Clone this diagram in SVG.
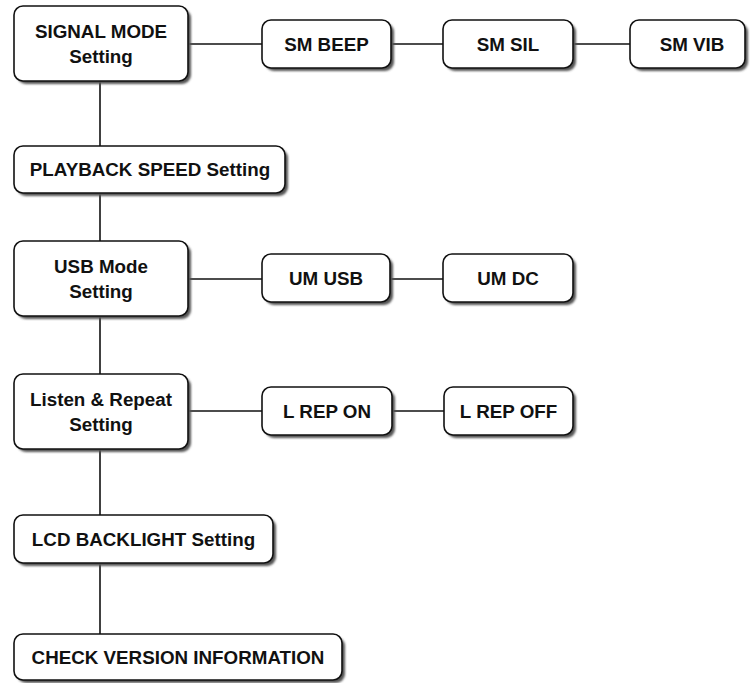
<svg xmlns="http://www.w3.org/2000/svg" width="754" height="683" viewBox="0 0 754 683">
<defs>
<filter id="sh" x="-10%" y="-10%" width="130%" height="140%"><feGaussianBlur stdDeviation="0.8"/></filter>
</defs>
<style>
.box{fill:#fff;stroke:#111;stroke-width:1.6}
.shadow{fill:#555;filter:url(#sh)}
.t{font-family:"Liberation Sans",Arial,sans-serif;font-weight:bold;font-size:18.8px;fill:#111;text-anchor:middle}
.c{stroke:#111;stroke-width:1.6;fill:none}
</style>
<rect width="754" height="683" fill="#fff"/>
<g id="connectors">
<line class="c" x1="100" y1="81" x2="100" y2="634"/>
<line class="c" x1="188" y1="44" x2="262" y2="44"/>
<line class="c" x1="391" y1="44" x2="443" y2="44"/>
<line class="c" x1="573" y1="44" x2="630" y2="44"/>
<line class="c" x1="188" y1="279" x2="262" y2="279"/>
<line class="c" x1="390" y1="279" x2="443" y2="279"/>
<line class="c" x1="188" y1="411" x2="262" y2="411"/>
<line class="c" x1="392" y1="411" x2="444" y2="411"/>
</g>
<g id="signal-mode">
<rect class="shadow" x="17" y="9" width="174" height="75" rx="9"/>
<rect class="box" x="14" y="6" width="174" height="75" rx="9"/>
<text class="t" x="101" y="37.5">SIGNAL MODE</text>
<text class="t" x="101" y="62.5">Setting</text>
</g>
<g id="sm-beep">
<rect class="shadow" x="265" y="23" width="129" height="48" rx="9"/>
<rect class="box" x="262" y="20" width="129" height="48" rx="9"/>
<text class="t" x="326.5" y="50.5">SM BEEP</text>
</g>
<g id="sm-sil">
<rect class="shadow" x="446" y="23" width="130" height="48" rx="9"/>
<rect class="box" x="443" y="20" width="130" height="48" rx="9"/>
<text class="t" x="508" y="50.5">SM SIL</text>
</g>
<g id="sm-vib">
<rect class="shadow" x="633" y="23" width="115" height="48" rx="9"/>
<rect class="box" x="630" y="20" width="115" height="48" rx="9"/>
<text class="t" x="692" y="50.5">SM VIB</text>
</g>
<g id="playback-speed">
<rect class="shadow" x="17" y="149" width="271" height="47" rx="9"/>
<rect class="box" x="14" y="146" width="271" height="47" rx="9"/>
<text class="t" x="150" y="176">PLAYBACK SPEED Setting</text>
</g>
<g id="usb-mode">
<rect class="shadow" x="17" y="244" width="174" height="75" rx="9"/>
<rect class="box" x="14" y="241" width="174" height="75" rx="9"/>
<text class="t" x="101" y="272.5">USB Mode</text>
<text class="t" x="101" y="297.5">Setting</text>
</g>
<g id="um-usb">
<rect class="shadow" x="265" y="257" width="128" height="48" rx="9"/>
<rect class="box" x="262" y="254" width="128" height="48" rx="9"/>
<text class="t" x="326" y="284.5">UM USB</text>
</g>
<g id="um-dc">
<rect class="shadow" x="446" y="257" width="130" height="48" rx="9"/>
<rect class="box" x="443" y="254" width="130" height="48" rx="9"/>
<text class="t" x="508" y="284.5">UM DC</text>
</g>
<g id="listen-repeat">
<rect class="shadow" x="17" y="377" width="174" height="75" rx="9"/>
<rect class="box" x="14" y="374" width="174" height="75" rx="9"/>
<text class="t" x="101" y="405.5">Listen &amp; Repeat</text>
<text class="t" x="101" y="430.5">Setting</text>
</g>
<g id="l-rep-on">
<rect class="shadow" x="265" y="390" width="130" height="48" rx="9"/>
<rect class="box" x="262" y="387" width="130" height="48" rx="9"/>
<text class="t" x="327" y="417.5">L REP ON</text>
</g>
<g id="l-rep-off">
<rect class="shadow" x="447" y="390" width="129" height="48" rx="9"/>
<rect class="box" x="444" y="387" width="129" height="48" rx="9"/>
<text class="t" x="508.5" y="417.5">L REP OFF</text>
</g>
<g id="lcd-backlight">
<rect class="shadow" x="17" y="518" width="259" height="48" rx="9"/>
<rect class="box" x="14" y="515" width="259" height="48" rx="9"/>
<text class="t" x="143.5" y="545.5">LCD BACKLIGHT Setting</text>
</g>
<g id="check-version">
<rect class="shadow" x="17" y="637" width="328" height="46" rx="9"/>
<rect class="box" x="14" y="634" width="328" height="46" rx="9"/>
<text class="t" x="178" y="663.5">CHECK VERSION INFORMATION</text>
</g>
</svg>
